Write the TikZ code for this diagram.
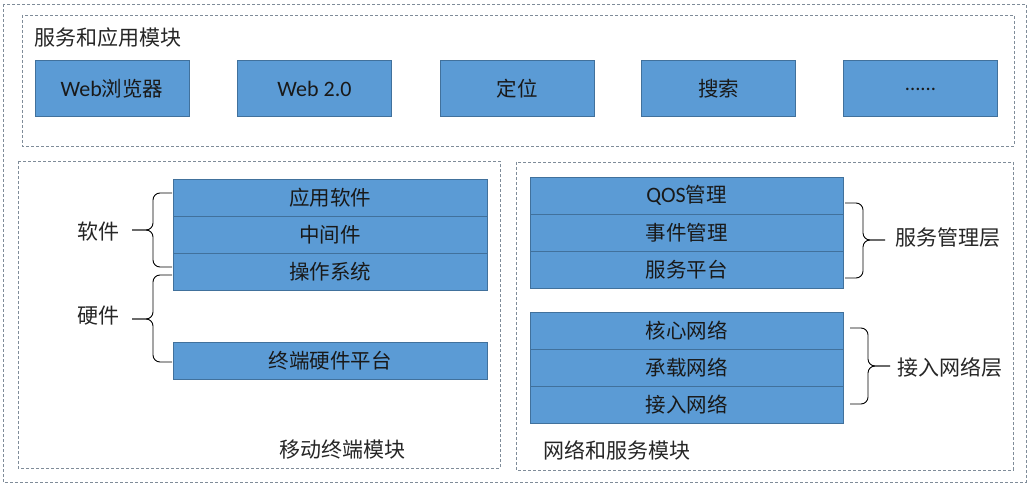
\documentclass[tikz,border=0pt]{standalone}
\usepackage{fontspec}
\setmainfont{Carlito}
\newfontfamily\cjk{Noto Sans CJK SC}
\newfontfamily\lat{Carlito}
\definecolor{boxfill}{HTML}{5B9BD5}
\definecolor{boxline}{HTML}{41719C}
\definecolor{dashgray}{HTML}{7F8C99}
\begin{document}
\begin{tikzpicture}[x=1pt,y=-1pt,
  dashbox/.style={draw=dashgray, dash pattern=on 3pt off 2pt, line width=0.7pt},
  blk/.style={draw=boxline, fill=boxfill, line width=1pt, inner sep=0pt, font=\fontsize{20.5}{24}\selectfont\cjk, text=black!90},
  topblk/.style={blk, minimum width=154pt, minimum height=56pt},
  lrow/.style={blk, minimum width=314pt, minimum height=37pt},
  rrow/.style={blk, minimum width=313pt, minimum height=37pt},
  lbl/.style={font=\fontsize{21}{24}\selectfont\cjk, inner sep=0pt, text=black!85},
  brc/.style={line width=0.9pt, rounded corners=7pt}]
\useasboundingbox (0,0) rectangle (1032,489);
\fill[white] (0,0) rectangle (1032,489);
% dashed frames
\draw[dashbox] (3,4) rectangle (1026,482);
\draw[dashbox] (22,15) rectangle (1014,146);
\draw[dashbox] (18,161) rectangle (500,468);
\draw[dashbox] (516,162) rectangle (1013,470);
% top module
\node[lbl, anchor=west] (tlabel) at (34,38) {服务和应用模块};
\node[topblk] (t1) at (112,89) {{\lat\fontsize{22}{24}\selectfont Web}浏览器};
\node[topblk] (t2) at (314.5,89) {\lat\fontsize{22}{24}\selectfont Web 2.0};
\node[topblk] (t3) at (517,89) {定位};
\node[topblk] (t4) at (718.5,89) {搜索};
\node[topblk] (t5) at (920.5,89) {\lat ......};
% mobile terminal module
\node[lrow] (l1) at (330,197.5) {应用软件};
\node[lrow] (l2) at (330,234.5) {中间件};
\node[lrow] (l3) at (330,271.5) {操作系统};
\node[lrow] (l4) at (330,360.5) {终端硬件平台};
\node[lbl] (soft) at (98,232) {软件};
\node[lbl] (hard) at (98,316) {硬件};
\node[lbl] (mlabel) at (342,450) {移动终端模块};
\coordinate (sw) at (132,230);
\coordinate (hw) at (132,319);
\draw[brc] (172,193) -- (153,193) -- (153,230) -- (sw);
\draw[brc] (172,267) -- (153,267) -- (153,230) -- (sw);
\draw[brc] (172,275) -- (153,275) -- (153,319) -- (hw);
\draw[brc] (172,362) -- (153,362) -- (153,319) -- (hw);
% network & service module
\node[rrow] (r1) at (686.5,195.5) {{\lat\fontsize{22}{24}\selectfont QOS}管理};
\node[rrow] (r2) at (686.5,232.5) {事件管理};
\node[rrow] (r3) at (686.5,269.5) {服务平台};
\node[rrow] (r4) at (686.5,330.5) {核心网络};
\node[rrow] (r5) at (686.5,367.5) {承载网络};
\node[rrow] (r6) at (686.5,404.5) {接入网络};
\node[lbl] (svc) at (948,238) {服务管理层};
\node[lbl] (acc) at (950,367) {接入网络层};
\node[lbl] (nlabel) at (617,450) {网络和服务模块};
\coordinate (sv) at (885,240);
\coordinate (ac) at (890,366);
\draw[brc] (845,203) -- (863,203) -- (863,240) -- (sv);
\draw[brc] (845,278) -- (863,278) -- (863,240) -- (sv);
\draw[brc] (850,328) -- (868,328) -- (868,366) -- (ac);
\draw[brc] (850,404) -- (868,404) -- (868,366) -- (ac);
\end{tikzpicture}
\end{document}
